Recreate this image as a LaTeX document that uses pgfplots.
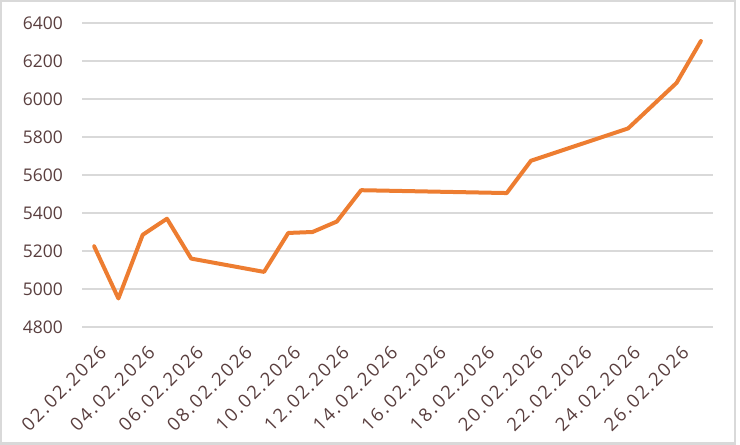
\documentclass[border=0pt]{standalone}
\usepackage{pgfplots}
\pgfplotsset{compat=1.18}
\usepackage{fontspec}
\setmainfont{Open Sans}
\newfontfamily\spacedfont[LetterSpace=10]{Open Sans}
\definecolor{lineorange}{RGB}{237,125,49}
\definecolor{gridgray}{RGB}{217,217,217}
\definecolor{labelbrown}{RGB}{89,62,62}
\begin{document}
\begin{tikzpicture}
\useasboundingbox (0,0) rectangle (740bp,445bp);
\draw[gridgray, line width=2bp] (1bp,1.5bp) rectangle (735bp,443.5bp);
\begin{axis}[
  at={(82bp,118bp)}, anchor=south west,
  width=631bp, height=304bp, scale only axis,
  xmin=1.5, xmax=27.5, ymin=4800, ymax=6400,
  xtick={2,4,...,26},
  xticklabels={02.02.2026,04.02.2026,06.02.2026,08.02.2026,10.02.2026,12.02.2026,14.02.2026,16.02.2026,18.02.2026,20.02.2026,22.02.2026,24.02.2026,26.02.2026},
  ytick={4800,5000,...,6400},
  ymajorgrids, grid style={gridgray, line width=1.5bp},
  axis line style={draw=none},
  major tick length=0pt,
  tick label style={font=\fontsize{17.5}{20}\selectfont, text=labelbrown, inner sep=0pt},
  /pgf/number format/assume math mode=true,
  /pgf/number format/1000 sep={},
  xticklabel style={font=\spacedfont\fontsize{18.5}{21}\selectfont, xshift=4bp, yshift=-17bp, anchor=north east, rotate=45},
  yticklabel style={anchor=east, xshift=-19bp},
  clip=false,
]
\addplot[lineorange, line width=4bp, line join=round, line cap=round] coordinates {
(2,5225) (3,4950) (4,5285) (5,5370) (6,5160) (9,5090) (10,5295) (11,5300)
(12,5355) (13,5520) (19,5505) (20,5675) (24,5845) (26,6085) (27,6305)
};
\end{axis}
\end{tikzpicture}
\end{document}
